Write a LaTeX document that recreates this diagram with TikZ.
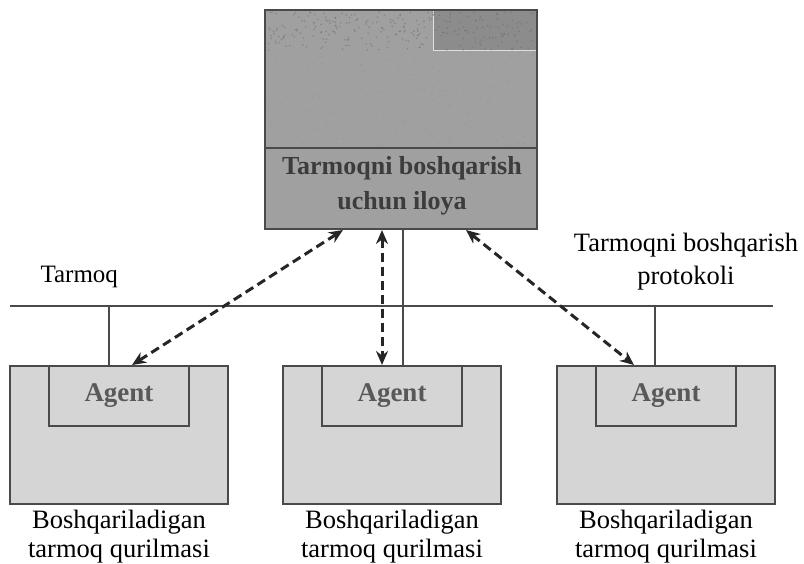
\documentclass[tikz,border=0pt]{standalone}
\usepackage{fontspec}
\setmainfont{Liberation Serif}
\usetikzlibrary{arrows.meta,calc}
\definecolor{appfill}{HTML}{A0A0A0}
\definecolor{appdark}{HTML}{8C8C8C}
\definecolor{devfill}{HTML}{D5D5D5}
\definecolor{edge}{HTML}{4A4A4A}
\definecolor{ink}{HTML}{3C3C3C}
\tikzset{
  panel/.style={draw=edge, line width=1.6pt, inner sep=0pt, outer sep=0pt, anchor=north west},
  devbox/.style={panel, fill=devfill, minimum width=218pt, minimum height=138pt},
  agentbox/.style={panel, fill=devfill, minimum width=140pt, minimum height=60pt,
    font=\fontsize{27}{30}\selectfont\bfseries, text=ink!85},
  wire/.style={draw=edge, line width=1.2pt},
  link/.style={draw=black!85, line width=3pt, dash pattern=on 9pt off 5pt,
    {Stealth[length=14pt,width=12pt]}-{Stealth[length=14pt,width=12pt]}},
  caption/.style={font=\fontsize{26.5}{29}\selectfont, align=center, text=black},
}
\begin{document}
\begin{tikzpicture}[x=1pt,y=-1pt]
\useasboundingbox (0,0) rectangle (804,563);

% management application
\node[panel, fill=appfill, minimum width=272pt, minimum height=219pt] (app) at (265,10) {};
\fill[appdark] (433,11) rectangle (536,50);
\draw[white!75!gray, line width=0.8pt] (433,11) -- (433,50) -- (536,50);
\pgfmathsetseed{11}
\foreach \i in {1,...,260} {
  \fill[black!60, opacity=0.45] ($(267,12)+(rnd*268,rnd*38)$) circle (0.9);
}
\foreach \i in {1,...,220} {
  \fill[black!45, opacity=0.35] ($(267,50)+(rnd*268,rnd*96)$) circle (0.8);
}
\draw[edge, line width=1.6pt] (265,148) -- (537,148);
\node[font=\fontsize{26}{35}\selectfont\bfseries, text=ink, align=center] (applbl) at (402,186)
  {Tarmoqni boshqarish\\uchun iloya};

% network bus
\coordinate (busL) at (10,306);
\coordinate (busR) at (773,306);
\draw[wire] (busL) -- (busR);

% managed devices with agents
\node[devbox] (dev1) at (10,366) {};
\node[devbox] (dev2) at (283,366) {};
\node[devbox] (dev3) at (557,366) {};
\node[agentbox] (ag1) at (49,366) {Agent};
\node[agentbox] (ag2) at (322,366) {Agent};
\node[agentbox] (ag3) at (596,366) {Agent};

% bus taps
\coordinate (tap1) at (109,306);
\coordinate (tap3) at (655,306);
\draw[wire] (tap1) -- (tap1 |- ag1.north);
\draw[wire] (tap3) -- (tap3 |- ag3.north);
\coordinate (appout) at (403,229);
\draw[wire] (appout) -- (appout |- ag2.north);

% management protocol exchanges
\coordinate (p1) at (343,230);
\coordinate (q1) at (132,365);
\coordinate (p2) at (382,230);
\coordinate (q2) at (382,365);
\coordinate (p3) at (466,230);
\coordinate (q3) at (634,365);
\draw[link] (p1) -- (q1);
\draw[link] (p2) -- (q2);
\draw[link] (p3) -- (q3);

% labels
\node[caption, anchor=west, font=\fontsize{25}{29}\selectfont] (net) at (37,277) {Tarmoq};
\node[caption, font=\fontsize{26.5}{33}\selectfont] (proto) at (686,262) {Tarmoqni boshqarish\\protokoli};
\node[caption, anchor=north] (c1) at ($(dev1.south)+(0,3)$) {Boshqariladigan\\tarmoq qurilmasi};
\node[caption, anchor=north] (c2) at ($(dev2.south)+(0,3)$) {Boshqariladigan\\tarmoq qurilmasi};
\node[caption, anchor=north] (c3) at ($(dev3.south)+(0,3)$) {Boshqariladigan\\tarmoq qurilmasi};
\end{tikzpicture}
\end{document}
